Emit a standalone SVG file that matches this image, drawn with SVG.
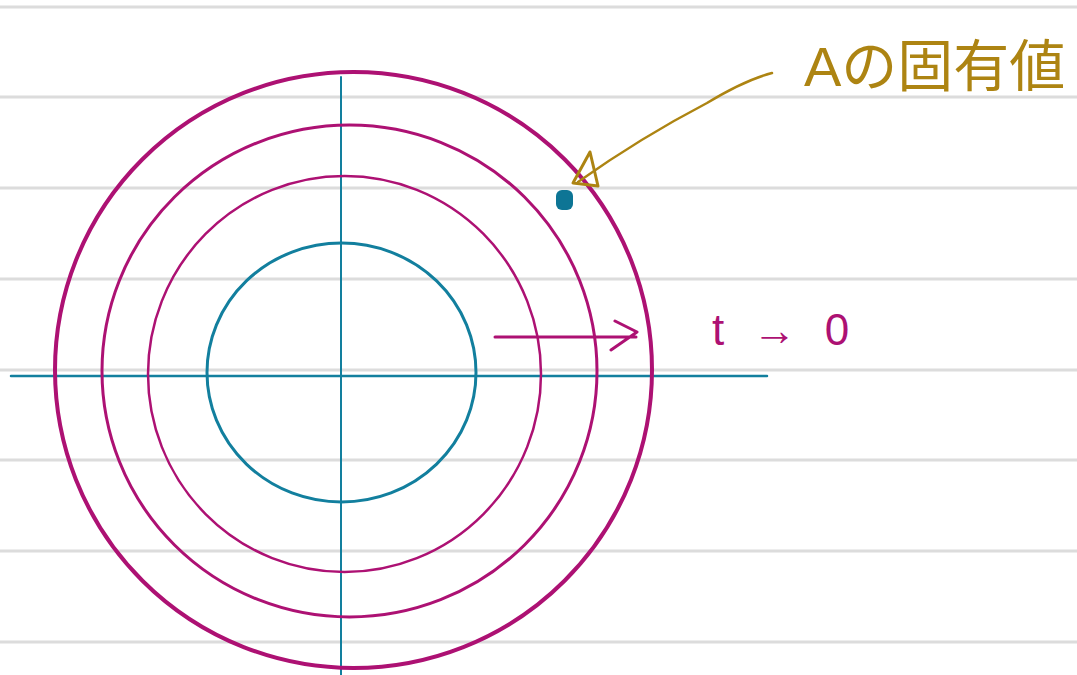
<svg xmlns="http://www.w3.org/2000/svg" width="1077" height="675" viewBox="0 0 1077 675">
<style>
.rule{stroke:#dcdcdc;stroke-width:3}
.mag{fill:none;stroke:#ad1173;stroke-linecap:round;stroke-linejoin:round}
.teal{fill:none;stroke:#127f9e;stroke-linecap:round}
.gold{fill:none;stroke:#ad8412;stroke-linecap:round;stroke-linejoin:round}
</style>
<rect width="1077" height="675" fill="#ffffff"/>
<g id="rules">
<line class="rule" x1="0" y1="7" x2="1077" y2="7"/>
<line class="rule" x1="0" y1="97" x2="1077" y2="97"/>
<line class="rule" x1="0" y1="188" x2="1077" y2="188"/>
<line class="rule" x1="0" y1="279" x2="1077" y2="279"/>
<line class="rule" x1="0" y1="370" x2="1077" y2="370"/>
<line class="rule" x1="0" y1="460" x2="1077" y2="460"/>
<line class="rule" x1="0" y1="551" x2="1077" y2="551"/>
<line class="rule" x1="0" y1="642" x2="1077" y2="642"/>
</g>
<g id="axes">
<line class="teal" x1="11" y1="376" x2="767" y2="376" stroke-width="2.5"/>
<line class="teal" x1="341" y1="77" x2="341" y2="675" stroke-width="2"/>
</g>
<g id="circles">
<ellipse id="c1" class="mag" cx="353.5" cy="370" rx="298.5" ry="298" stroke-width="4"/>
<ellipse id="c2" class="mag" cx="349.5" cy="371" rx="247.5" ry="246" stroke-width="3"/>
<ellipse id="c3" class="mag" cx="344.5" cy="374" rx="196.5" ry="198" stroke-width="2.5"/>
<ellipse id="c4" class="teal" cx="341.5" cy="372.5" rx="134.5" ry="129.5" stroke-width="3"/>
</g>
<g id="connectors">
<path class="mag" d="M495 337 L636 337 M615 321 L637 332 L611 350" stroke-width="3"/>
<path class="gold" d="M772 73 Q745 80 707 103 Q640 138 578 182" stroke-width="2.5"/>
<path class="gold" d="M590 152 L573 183 L598 186 Z" stroke-width="3"/>
</g>
<g id="dot">
<rect x="556" y="190" width="17" height="20" rx="6" fill="#0d7595"/>
</g>
<g id="labels">
<text x="712" y="345" font-family="Liberation Sans, sans-serif" font-size="44" fill="#ad1173" letter-spacing="8">t → 0</text>
<text x="804" y="86" font-family="Liberation Sans, 'Noto Sans CJK JP', sans-serif" font-size="56" fill="#ad8412">Aの固有値</text>
</g>
</svg>
